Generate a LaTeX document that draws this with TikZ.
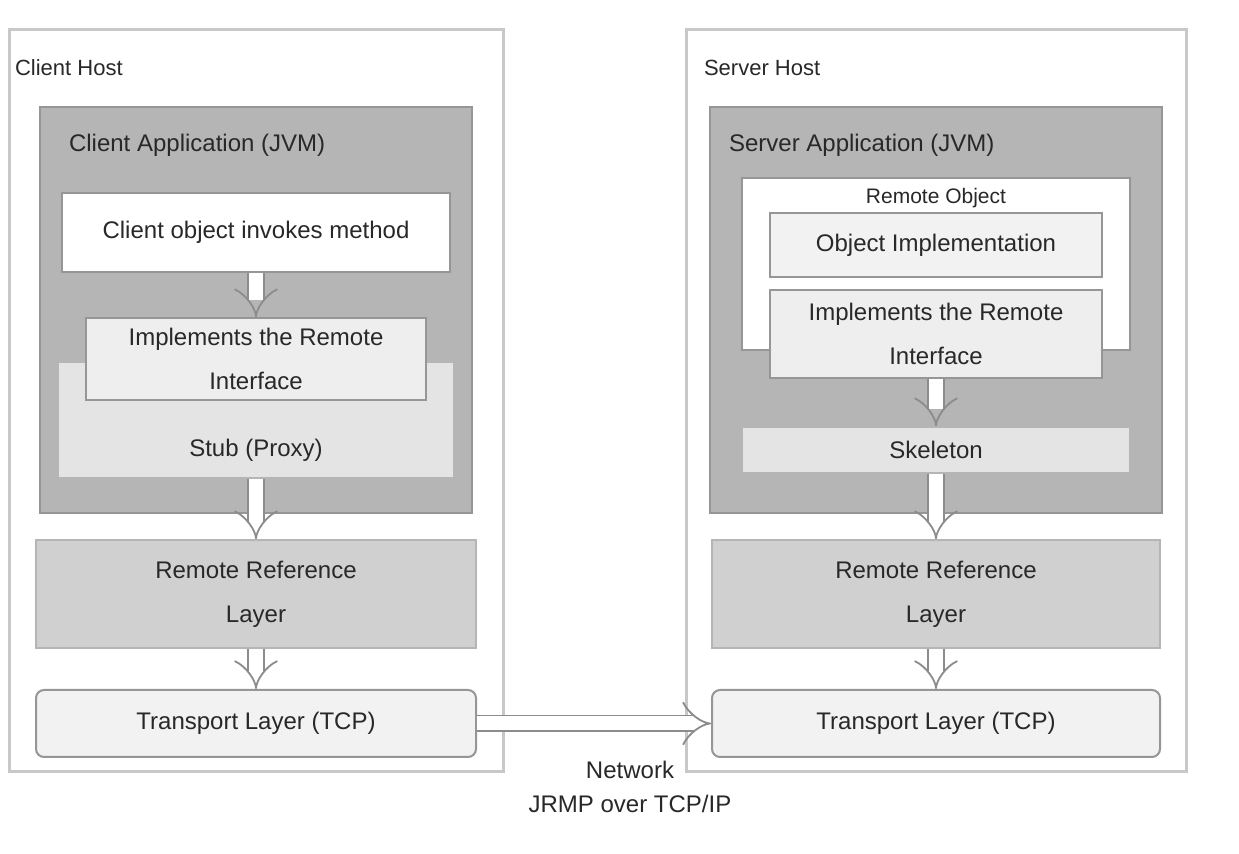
\documentclass[tikz,border=0pt]{standalone}
\usepackage{fontspec}
\setmainfont{Liberation Sans}
\definecolor{panelgray}{RGB}{200,200,200}
\definecolor{appgray}{RGB}{181,181,181}
\definecolor{appline}{RGB}{150,150,150}
\definecolor{boxline}{RGB}{150,150,150}
\definecolor{stubfill}{RGB}{228,228,228}
\definecolor{ifacefill}{RGB}{238,238,238}
\definecolor{layerfill}{RGB}{208,208,208}
\definecolor{transfill}{RGB}{242,242,242}
\definecolor{connline}{RGB}{140,140,140}
\definecolor{textgray}{RGB}{40,40,40}
\usetikzlibrary{positioning,fit,arrows.meta}

\begin{document}
\begin{tikzpicture}[
    x=0.5pt, y=-0.5pt,
    every node/.style={font=\fontsize{12}{22}\selectfont, text=textgray, align=center},
    panel/.style={draw=panelgray, line width=1.5pt, fill=white, inner sep=0pt},
    paneltitle/.style={anchor=west, font=\fontsize{11}{13}\selectfont},
    app/.style={draw=appline, line width=1pt, fill=appgray, inner sep=0pt},
    apptitle/.style={anchor=west},
    objbox/.style={draw=boxline, line width=0.8pt, fill=white, inner sep=0pt},
    stubbox/.style={draw=boxline!70, line width=0.8pt, fill=stubfill, inner sep=0pt},
    ifacebox/.style={draw=boxline, line width=0.8pt, fill=ifacefill, inner sep=0pt},
    implbox/.style={draw=boxline, line width=0.8pt, fill=transfill, inner sep=0pt},
    layerbox/.style={draw=boxline!70, line width=0.8pt, fill=layerfill, inner sep=0pt},
    transbox/.style={draw=boxline, line width=1pt, fill=transfill, rounded corners=4pt, inner sep=0pt},
    conn/.style={draw=connline, double=white, double distance=7pt, line width=0.9pt, -{Implies}},
    netlabel/.style={font=\fontsize{12}{17}\selectfont}
]
\useasboundingbox (0,0) rectangle (1239,854);

% Panels
\node[panel, fit={(9,30) (503,772)}] (clientpanel) {};
\node[panel, fit={(686,30) (1186,772)}] (serverpanel) {};
\node[paneltitle] (clienttitle) at (8,68) {Client Host};
\node[paneltitle] (servertitle) at (697,68) {Server Host};

% Client side
\node[app, fit={(40,107) (472,513)}] (capp) {};
\node[apptitle] (capptitle) at (62,145) {Client Application (JVM)};
\node[objbox, fit={(62,193) (450,272)}, label={center:Client object invokes method}] (cobj) {};
\node[stubbox, fit={(58,362) (454,478)},
      label={[anchor=south, yshift=5pt]south:Stub (Proxy)}] (cstub) {};
\node[ifacebox, fit={(86,318) (426,400)}, label={center:Implements the Remote\\Interface}] (ciface) {};
\node[layerbox, fit={(36,540) (476,648)}, label={center:Remote Reference\\Layer}] (crrl) {};
\node[transbox, fit={(36,690) (476,757)}, label={center:Transport Layer (TCP)}] (ctrans) {};

% Server side
\node[app, fit={(710,107) (1162,513)}] (sapp) {};
\node[apptitle] (sapptitle) at (722,145) {Server Application (JVM)};
\node[objbox, fit={(742,178) (1130,350)},
      label={[anchor=north, yshift=-2pt, font=\fontsize{10.5}{12}\selectfont]north:Remote Object}] (sobj) {};
\node[implbox, fit={(770,213) (1102,277)}, label={center:Object Implementation}] (simpl) {};
\node[ifacebox, fit={(770,290) (1102,378)}, label={center:Implements the Remote\\Interface}] (siface) {};
\node[stubbox, fit={(742,427) (1130,473)}, label={center:Skeleton}] (sskel) {};
\node[layerbox, fit={(712,540) (1160,648)}, label={center:Remote Reference\\Layer}] (srrl) {};
\node[transbox, fit={(712,690) (1160,757)}, label={center:Transport Layer (TCP)}] (strans) {};

% Network label
\node[netlabel] (netlbl) at (630,787) {Network\\JRMP over TCP/IP};

% Arrows
\draw[conn] (cobj) -- (ciface);
\draw[conn] (cstub) -- (crrl);
\draw[conn] (crrl) -- (ctrans);
\draw[conn] (siface) -- (sskel);
\draw[conn] (sskel) -- (srrl);
\draw[conn] (srrl) -- (strans);
\draw[conn] (ctrans) -- (strans);

\end{tikzpicture}
\end{document}
